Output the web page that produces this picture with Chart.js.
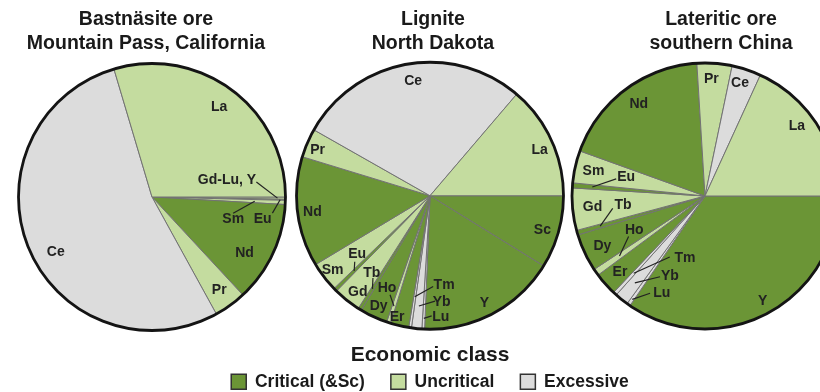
<!DOCTYPE html>
<html>
<head>
<meta charset="utf-8">
<title>Rare earth element distribution by economic class</title>
<script src="https://cdn.jsdelivr.net/npm/chart.js@4/dist/chart.umd.min.js"></script>
<style>
  html, body { margin: 0; padding: 0; background: #fff; }
  #wrap { position: relative; width: 820px; height: 392px; overflow: hidden; background: #fff;
          font-family: "Liberation Sans", Arial, sans-serif; }
  .pane { position: absolute; }
  .ttl { position: absolute; top: 6px; width: 320px; margin-left: -160px; text-align: center;
         font-weight: bold; font-size: 19.5px; line-height: 24px; color: #1a1a1a; white-space: nowrap; }
</style>
</head>
<body>
<div id="wrap">
  <div class="pane" style="left:2px;top:47px;width:300px;height:300px"><canvas id="pieBastnasite"></canvas></div>
  <div class="pane" style="left:555px;top:46px;width:300px;height:300px"><canvas id="pieLaterite"></canvas></div>
  <div class="pane" style="left:0;top:0;width:820px;height:392px"><canvas id="pieLignite"></canvas></div>
  <div class="ttl" id="t0" style="left:146px"></div>
  <div class="ttl" id="t1" style="left:433px"></div>
  <div class="ttl" id="t2" style="left:721px"></div>
</div>
<script>
// ---- data -------------------------------------------------------------
const titles = [
  ['Bastnäsite ore', 'Mountain Pass, California'],
  ['Lignite', 'North Dakota'],
  ['Lateritic ore', 'southern China']
];
const legendTitle = 'Economic class';
const classNames = ['Critical (&Sc)', 'Uncritical', 'Excessive'];

const critical   = ['Nd', 'Eu', 'Tb', 'Dy', 'Er', 'Y', 'Sc'];
const uncritical = ['La', 'Pr', 'Sm', 'Gd', 'Ho', 'Gd-Lu, Y'];
const excessive  = ['Ce', 'Tm', 'Yb', 'Lu'];

// share of total REE, percent
const bastnasiteLabels = ['La', 'Ce', 'Pr', 'Nd', 'Sm', 'Eu', 'Gd-Lu, Y'];
const bastnasiteValues = [29.6, 53.4, 3.9, 12.2, 0.5, 0.12, 0.28];

const ligniteLabels = ['La', 'Ce', 'Pr', 'Nd', 'Sm', 'Eu', 'Gd', 'Tb', 'Dy', 'Ho', 'Er', 'Tm', 'Yb', 'Lu', 'Y', 'Sc'];
const ligniteValues = [13.75, 28.03, 3.5, 13.33, 3.61, 0.42, 3.33, 0.42, 3.33, 0.5, 2.22, 0.33, 1.25, 0.33, 16.83, 8.81];

const lateriticLabels = ['La', 'Ce', 'Pr', 'Nd', 'Sm', 'Eu', 'Gd', 'Tb', 'Dy', 'Ho', 'Er', 'Tm', 'Yb', 'Lu', 'Y'];
const lateriticValues = [18.17, 3.56, 4.25, 18.53, 3.92, 0.61, 5.14, 0.56, 4.58, 0.83, 2.78, 0.44, 1.67, 0.42, 34.56];

// ---- styling ----------------------------------------------------------
const classColors = ['#6b9536', '#c4dc9f', '#dcdcdc'];
const sliceBorder = '#727272';
const FONT = '"Liberation Sans", Arial, sans-serif';

// Label placement per slice: [radius fraction, angle offset from slice middle (deg, ccw)]
// optionally followed by a leader: [start radius fraction, start angle offset, end radius fraction]
const placeBastnasite = {
  'La': [0.84, 0], 'Ce': [0.83, 7], 'Pr': [0.86, 0], 'Nd': [0.81, -6],
  'Sm': [0.63, -12.7, 0.62, -9, 0.77],
  'Eu': [0.845, -9.9, 0.91, -6.4, 0.96],
  'Gd-Lu, Y': [0.576, 13.3, 0.79, 8.7, 0.94]
};
const placeLignite = {
  'La': [0.89, -2], 'Ce': [0.87, -1.6], 'Pr': [0.91, 1], 'Nd': [0.89, 1], 'Sm': [0.92, 0],
  'Eu': [0.70, -6, 0.75, -3.5, 0.80],
  'Gd': [0.9, 1.5],
  'Tb': [0.725, -5.2, 0.75, -3, 0.82],
  'Dy': [0.91, 0],
  'Ho': [0.76, -7, 0.80, -3.9, 0.87],
  'Er': [0.94, -2],
  'Tm': [0.675, 17.6, 0.68, 10.6, 0.765],
  'Yb': [0.80, 12, 0.79, 8.5, 0.83],
  'Lu': [0.91, 8, 0.90, 3.7, 0.92],
  'Y': [0.9, -1], 'Sc': [0.88, -1]
};
const placeLaterite = {
  'La': [0.87, 4.7], 'Ce': [0.89, 1], 'Pr': [0.88, 1], 'Nd': [0.85, -1], 'Sm': [0.86, 0],
  'Eu': [0.61, -9.2, 0.68, -6.3, 0.85],
  'Gd': [0.85, 0],
  'Tb': [0.62, -9.7, 0.70, -8.4, 0.82],
  'Dy': [0.86, 1],
  'Ho': [0.59, -9.4, 0.65, -7.1, 0.785],
  'Er': [0.86, 0.5],
  'Tm': [0.49, 24.9, 0.53, 12.7, 0.79],
  'Yb': [0.66, 15.3, 0.695, 9.8, 0.84],
  'Lu': [0.80, 11.2, 0.84, 5.7, 0.95],
  'Y': [0.9, 1]
};

// ---- titles -----------------------------------------------------------
titles.forEach((lines, i) => {
  const el = document.getElementById('t' + i);
  lines.forEach((line, k) => {
    if (k) el.appendChild(document.createElement('br'));
    el.appendChild(document.createTextNode(line));
  });
});

function classOf(name) {
  if (critical.includes(name)) return 0;
  if (uncritical.includes(name)) return 1;
  return 2;
}

// Outer rim plus element labels (with leader lines for thin slices)
const pieDecor = {
  id: 'pieDecor',
  afterDatasetsDraw(chart, args, opts) {
    const arcs = chart.getDatasetMeta(0).data;
    if (!arcs.length) return;
    const names = chart.data.labels;
    const ctx = chart.ctx;
    const { x: cx, y: cy, outerRadius: R } = arcs[0].getProps(['x', 'y', 'outerRadius'], true);
    ctx.save();
    ctx.beginPath();
    ctx.arc(cx, cy, R, 0, Math.PI * 2);
    ctx.lineWidth = 2.8;
    ctx.strokeStyle = '#141414';
    ctx.stroke();

    ctx.font = 'bold 14px ' + FONT;
    ctx.fillStyle = '#222';
    ctx.strokeStyle = '#222';
    ctx.lineWidth = 1.2;
    ctx.textAlign = 'center';
    ctx.textBaseline = 'middle';
    arcs.forEach((arc, i) => {
      const p = opts.place[names[i]];
      if (!p) return;
      const { startAngle, endAngle } = arc.getProps(['startAngle', 'endAngle'], true);
      const mid = -(startAngle + endAngle) / 2;
      const pt = (f, da) => {
        const t = mid + da * Math.PI / 180;
        return [cx + f * R * Math.cos(t), cy - f * R * Math.sin(t)];
      };
      if (p.length > 2) {
        const [sx, sy] = pt(p[2], p[3]);
        const [ex, ey] = pt(p[4], 0);
        ctx.beginPath();
        ctx.moveTo(sx, sy);
        ctx.lineTo(ex, ey);
        ctx.stroke();
      }
      const [lx, ly] = pt(p[0], p[1]);
      ctx.fillText(names[i], lx, ly);
    });
    ctx.restore();
  }
};

// Elements run counter-clockwise from 3 o'clock; Chart.js draws clockwise,
// so each series is handed over in reverse order starting at 90 degrees.
function makePie(canvasId, labels, values, place, radius, extra) {
  const order = labels.map((_, i) => i).reverse();
  const options = {
    responsive: true,
    maintainAspectRatio: false,
    animation: false,
    events: [],
    rotation: 90,
    radius: radius,
    layout: { padding: 0 },
    plugins: {
      legend: { display: false },
      tooltip: { enabled: false },
      title: { display: false },
      pieDecor: { place: place }
    }
  };
  if (extra) extra(options);
  return new Chart(document.getElementById(canvasId), {
    type: 'pie',
    data: {
      labels: order.map(i => labels[i]),
      datasets: [{
        data: order.map(i => values[i]),
        backgroundColor: order.map(i => classColors[classOf(labels[i])]),
        borderColor: sliceBorder,
        borderWidth: 1,
        hoverOffset: 0
      }]
    },
    options: options,
    plugins: [pieDecor]
  });
}

makePie('pieBastnasite', bastnasiteLabels, bastnasiteValues, placeBastnasite, 133.5);
makePie('pieLaterite', lateriticLabels, lateriticValues, placeLaterite, 133);

// The lignite chart spans the full width and carries the shared class legend.
makePie('pieLignite', ligniteLabels, ligniteValues, placeLignite, 133.5, (o) => {
  o.layout.padding = { left: 40, right: 0, top: 46.5, bottom: -8.5 };
  o.plugins.legend = {
    display: true,
    position: 'bottom',
    align: 'center',
    title: {
      display: true,
      text: legendTitle,
      color: '#1a1a1a',
      font: { family: FONT, size: 21, weight: 'bold', lineHeight: 1.2 },
      padding: { top: 0, bottom: -23.2 }
    },
    labels: {
      boxWidth: 15,
      boxHeight: 15,
      padding: 26,
      color: '#1a1a1a',
      font: { family: FONT, size: 17.5, weight: 'bold' },
      generateLabels: () => classNames.map((text, i) => ({
        text: text,
        fillStyle: classColors[i],
        strokeStyle: '#333',
        lineWidth: 1.5,
        hidden: false,
        index: i
      }))
    }
  };
});
</script>
</body>
</html>
